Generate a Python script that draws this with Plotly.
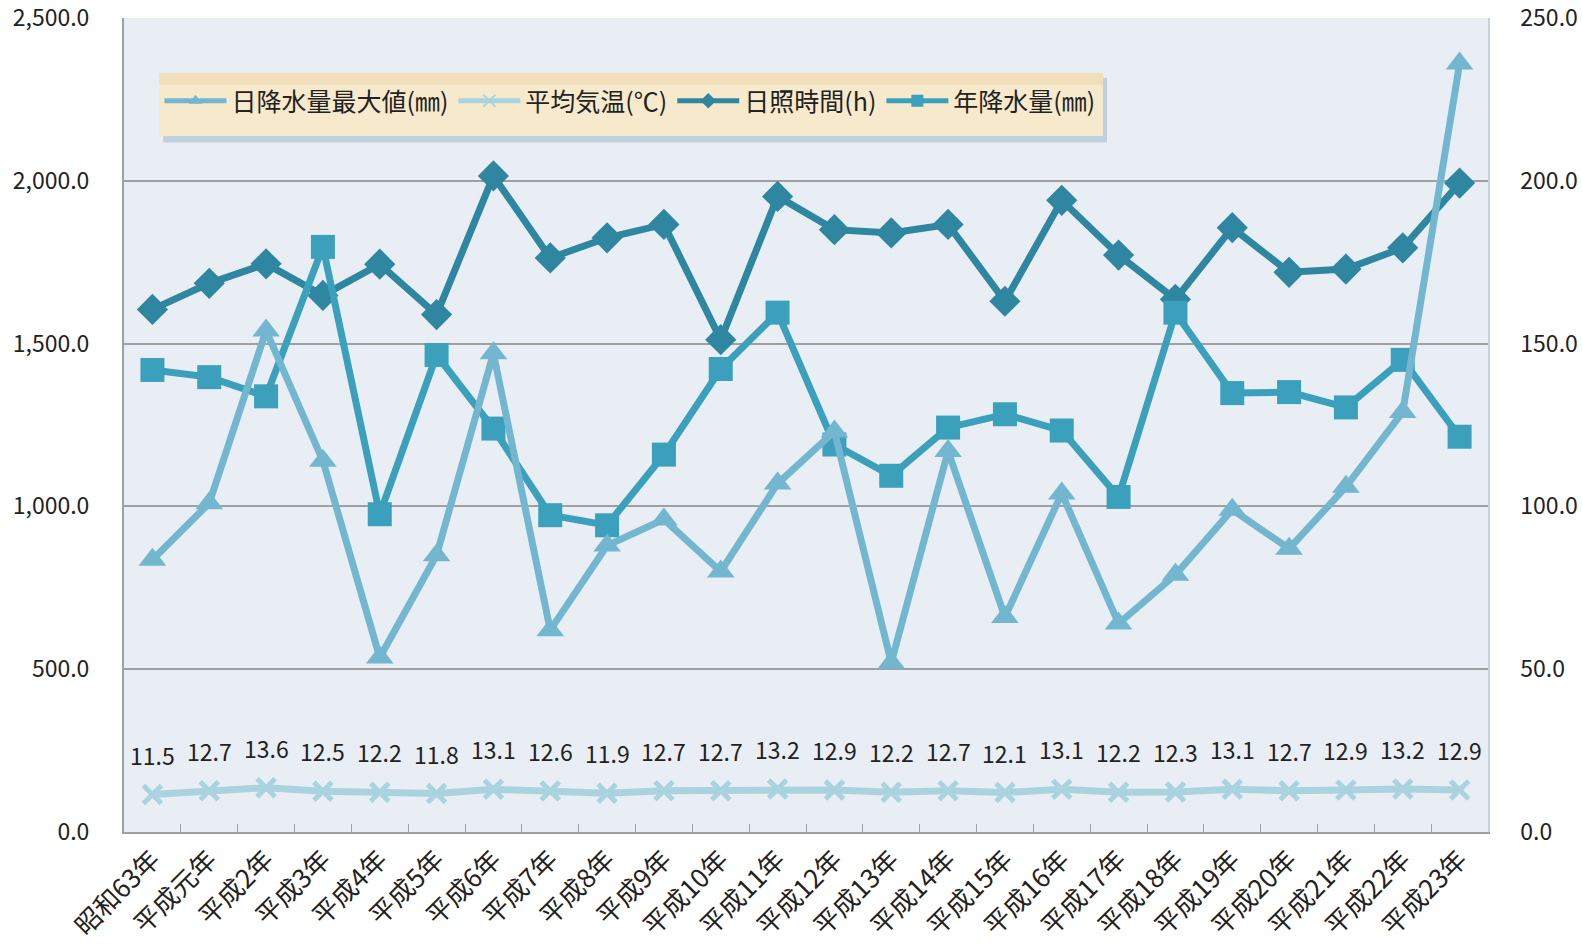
import plotly.graph_objects as go

categories = ["昭和63年", "平成元年", "平成2年", "平成3年", "平成4年", "平成5年", "平成6年", "平成7年",
              "平成8年", "平成9年", "平成10年", "平成11年", "平成12年", "平成13年", "平成14年", "平成15年",
              "平成16年", "平成17年", "平成18年", "平成19年", "平成20年", "平成21年", "平成22年", "平成23年"]

daily_max_rain = [83.6, 101, 154, 114, 53.6, 85, 147, 62, 88, 96, 80, 107,
                  123, 52, 117, 66, 104, 64, 79, 99, 87, 106, 129, 236]
avg_temp = [11.5, 12.7, 13.6, 12.5, 12.2, 11.8, 13.1, 12.6, 11.9, 12.7, 12.7, 13.2,
            12.9, 12.2, 12.7, 12.1, 13.1, 12.2, 12.3, 13.1, 12.7, 12.9, 13.2, 12.9]
sunshine = [1605, 1685, 1745, 1648, 1744, 1589, 2015, 1763, 1825, 1866, 1512, 1952,
            1850, 1840, 1866, 1630, 1940, 1772, 1636, 1856, 1719, 1729, 1794, 1993]
annual_rain = [1419, 1397, 1338, 1797, 976, 1465, 1239, 973, 942, 1159, 1422, 1595,
               1190, 1094, 1242, 1283, 1233, 1029, 1595, 1348, 1351, 1304, 1450, 1214]

c_daily = "#72b7cf"
c_temp = "#a9d3df"
c_sun = "#2f86a0"
c_annual = "#3ba0bb"
font_fam = "Noto Sans CJK JP, Noto Sans, sans-serif"

fig = go.Figure()
fig.add_trace(go.Scatter(x=categories, y=daily_max_rain, name="日降水量最大値(㎜)", yaxis="y2",
                         mode="lines+markers", line=dict(color=c_daily, width=7),
                         marker=dict(symbol="triangle-up", size=24, color=c_daily)))
fig.add_trace(go.Scatter(x=categories, y=avg_temp, name="平均気温(℃)", yaxis="y2",
                         mode="lines+markers", line=dict(color=c_temp, width=7),
                         marker=dict(symbol="x-thin", size=18, color=c_temp,
                                     line=dict(color=c_temp, width=5))))
fig.add_trace(go.Scatter(x=categories, y=sunshine, name="日照時間(h)", yaxis="y",
                         mode="lines+markers", line=dict(color=c_sun, width=7),
                         marker=dict(symbol="diamond", size=24, color=c_sun)))
fig.add_trace(go.Scatter(x=categories, y=annual_rain, name="年降水量(㎜)", yaxis="y",
                         mode="lines+markers", line=dict(color=c_annual, width=7),
                         marker=dict(symbol="square", size=24, color=c_annual)))

for c, t in zip(categories, avg_temp):
    fig.add_annotation(x=c, y=t, xref="x", yref="y2", text=f"{t:.1f}", showarrow=False,
                       yshift=40, font=dict(size=23, color="#222222", family=font_fam))

# legend shadow and box
bx0, bx1, by0, by1 = 0.0257, 0.7177, 0.855, 0.9324
fig.add_shape(type="rect", xref="paper", yref="paper", x0=bx0 + 0.003, x1=bx1 + 0.003,
              y0=by0 - 0.008, y1=by1 - 0.006,
              fillcolor="rgba(130,165,190,0.40)", line=dict(width=0), layer="below")
fig.add_shape(type="rect", xref="paper", yref="paper", x0=bx0, x1=bx1, y0=by0, y1=by1,
              fillcolor="#f7e9cc", line=dict(width=0), layer="below")
fig.add_shape(type="rect", xref="paper", yref="paper", x0=bx0, x1=bx1, y0=by1 - 0.014, y1=by1,
              fillcolor="#f1dfba", line=dict(width=0), layer="below")

fig.update_layout(
    width=1582, height=952,
    margin=dict(l=124, r=94, t=18, b=120),
    paper_bgcolor="white",
    plot_bgcolor="#e8eef4",
    font=dict(family=font_fam, size=22, color="#222222"),
    showlegend=True,
    legend=dict(orientation="h", x=0.026, y=0.898, xanchor="left", yanchor="middle",
                bgcolor="rgba(0,0,0,0)", borderwidth=0, font=dict(size=25, family=font_fam),
                itemsizing="constant", itemwidth=62),
    xaxis=dict(type="category", tickangle=-45, showgrid=False, showline=True, automargin=False,
               linecolor="#a0a0a0", linewidth=2, ticks="inside", tickson="boundaries",
               ticklen=8, tickcolor="#a0a0a0", mirror=False,
               tickfont=dict(size=26, family=font_fam), range=[-0.5, 23.5]),
    yaxis=dict(range=[0, 2500], dtick=500, tickformat=",.1f", showgrid=True, automargin=False,
               gridcolor="#a0a0a0", gridwidth=1.5, showline=True, linecolor="#a0a0a0",
               linewidth=2, zeroline=False, tickfont=dict(size=23, family=font_fam),
               ticks="", ticklabelstandoff=28, ticklabeloverflow="allow"),
    yaxis2=dict(range=[0, 250], dtick=50, tickformat=".1f", overlaying="y", side="right",
                automargin=False, ticklabeloverflow="allow",
                showgrid=False, showline=True, linecolor="#c8d0d8", linewidth=1.5, zeroline=False,
                tickfont=dict(size=23, family=font_fam), ticks="", ticklabelstandoff=26),
)

fig.write_html("out.html", config={"displayModeBar": False},
               post_script="document.body.style.margin='0';document.body.style.overflow='hidden';")
